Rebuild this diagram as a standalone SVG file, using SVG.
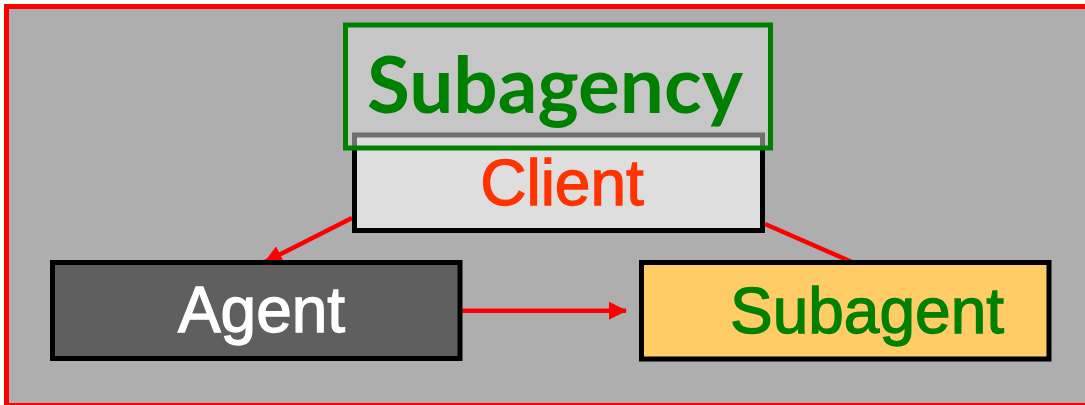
<svg xmlns="http://www.w3.org/2000/svg" width="1085" height="405" viewBox="0 0 1085 405">
  <defs>
    <marker id="arrowhead" markerUnits="userSpaceOnUse" markerWidth="18" markerHeight="18" viewBox="0 0 18 18" refX="17" refY="9" orient="auto">
      <path d="M0,0 L18,9 L0,18 Z" fill="#FF0000"/>
    </marker>
  </defs>
  <style>
    .box { stroke: #000000; stroke-width: 5; }
    .link { stroke: #FF0000; stroke-width: 4.5; fill: none; }
    .sans { font-family: "Liberation Sans", Arial, sans-serif; font-size: 64px; stroke-width: 1.3; text-anchor: middle; }
  </style>

  <!-- background frame -->
  <rect x="6.5" y="6.5" width="1084" height="399" fill="#AEAEAE" stroke="#FF0000" stroke-width="5"/>

  <!-- connectors -->
  <g id="connectors">
    <line class="link" x1="352" y1="218" x2="265" y2="262" marker-end="url(#arrowhead)"/>
    <line class="link" x1="461" y1="310.7" x2="626" y2="310.7" marker-end="url(#arrowhead)"/>
    <line class="link" x1="765" y1="224" x2="853" y2="262.5"/>
  </g>

  <!-- client -->
  <g id="client">
    <rect class="box" x="354.5" y="135" width="408" height="95.5" fill="#DEDEDE"/>
    <text class="sans" x="562" y="205" fill="#FF3300" stroke="#FF3300">Client</text>
  </g>

  <!-- subagency frame over the client -->
  <g id="subagency">
    <rect x="345.5" y="25" width="425" height="123" fill="#DDDDDD" fill-opacity="0.5" stroke="#008000" stroke-width="5"/>
    <text x="555" y="113" font-family="Lato, 'Open Sans', sans-serif" font-weight="bold" font-size="78" fill="#008000" text-anchor="middle" textLength="376" lengthAdjust="spacingAndGlyphs">Subagency</text>
  </g>

  <!-- agent -->
  <g id="agent">
    <rect class="box" x="52.5" y="262.5" width="407.5" height="96" fill="#5F5F5F"/>
    <text class="sans" x="261.5" y="332" fill="#FFFFFF" stroke="#FFFFFF">Agent</text>
  </g>

  <!-- subagent -->
  <g id="subagent">
    <rect class="box" x="641.5" y="262.5" width="407.5" height="96.5" fill="#FFCC66"/>
    <text class="sans" x="867" y="333" fill="#008000" stroke="#008000">Subagent</text>
  </g>
</svg>
